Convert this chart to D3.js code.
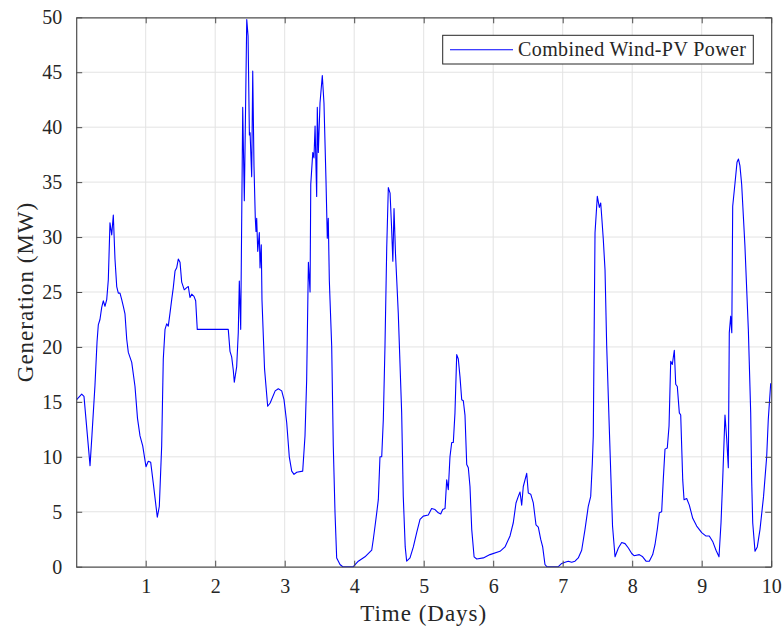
<!DOCTYPE html>
<html>
<head>
<meta charset="utf-8">
<script src="https://cdn.jsdelivr.net/npm/d3@7"></script>
<style>
  body { margin: 0; background: #fff; }
  text { font-family: "Liberation Serif", "Times New Roman", serif; fill: #262626; }
</style>
</head>
<body>
<svg id="chart" width="784" height="629"></svg>
<script>
// time in days, generation in MW
const days = [0.007,0.079,0.112,0.199,0.227,0.27,0.30,0.318,0.342,0.367,0.39,0.414,0.439,0.462,0.486,0.511,0.534,0.558,0.583,0.606,0.630,0.655,0.678,0.702,0.727,0.75,0.799,0.846,0.882,0.918,0.957,1.004,1.037,1.072,1.109,1.167,1.196,1.230,1.253,1.278,1.302,1.325,1.350,1.374,1.397,1.422,1.446,1.469,1.494,1.518,1.555,1.59,1.613,1.637,1.662,1.695,1.719,1.742,2.188,2.213,2.237,2.26,2.275,2.309,2.332,2.347,2.367,2.396,2.419,2.454,2.473,2.492,2.502,2.525,2.54,2.558,2.577,2.587,2.597,2.612,2.635,2.645,2.663,2.673,2.71,2.755,2.791,2.863,2.908,2.957,2.99,3.029,3.066,3.101,3.134,3.173,3.259,3.292,3.316,3.341,3.365,3.375,3.404,3.421,3.437,3.46,3.469,3.484,3.508,3.541,3.565,3.594,3.613,3.627,3.642,3.652,3.676,3.699,3.724,3.748,3.796,3.835,3.987,4.059,4.155,4.252,4.275,4.30,4.324,4.347,4.371,4.396,4.419,4.443,4.468,4.491,4.516,4.537,4.556,4.573,4.594,4.612,4.634,4.683,4.706,4.734,4.755,4.803,4.851,4.899,4.947,4.994,5.066,5.114,5.163,5.21,5.245,5.273,5.307,5.331,5.354,5.378,5.403,5.426,5.45,5.475,5.498,5.522,5.547,5.57,5.594,5.619,5.642,5.666,5.691,5.725,5.763,5.858,5.954,6.098,6.17,6.242,6.289,6.328,6.361,6.386,6.41,6.433,6.482,6.505,6.54,6.577,6.616,6.649,6.683,6.712,6.745,6.77,6.937,6.986,7.033,7.081,7.129,7.177,7.224,7.273,7.321,7.368,7.403,7.426,7.44,7.455,7.465,7.498,7.527,7.547,7.561,7.584,7.609,7.633,7.671,7.695,7.717,7.753,7.801,7.849,7.897,7.945,7.993,8.026,8.102,8.151,8.199,8.246,8.295,8.328,8.361,8.39,8.424,8.447,8.472,8.505,8.53,8.554,8.577,8.606,8.626,8.649,8.678,8.698,8.727,8.746,8.784,8.822,8.871,8.928,9.0,9.058,9.109,9.158,9.206,9.249,9.278,9.302,9.335,9.36,9.383,9.397,9.417,9.433,9.446,9.479,9.508,9.529,9.55,9.575,9.622,9.671,9.705,9.719,9.734,9.767,9.8,9.839,9.89,9.935,9.958,9.993]
const power = [15.2,15.7,15.5,9.2,12.0,16.5,20.5,22.0,22.5,23.6,24.2,23.7,24.3,26.1,31.3,30.2,32.0,28.0,25.5,24.9,24.9,24.3,23.7,23.0,20.7,19.5,18.6,16.4,13.5,11.9,11.0,9.1,9.6,9.5,7.6,4.5,5.5,11.0,18.9,21.6,22.1,21.9,23.1,24.3,25.4,26.9,27.2,28.0,27.7,25.9,25.2,25.4,25.5,24.5,24.8,24.6,24.2,21.6,21.6,19.6,19.1,17.9,16.8,18.2,21.3,26.0,21.6,41.8,33.3,49.8,48.3,39.3,39.5,35.5,45.1,36.5,31.7,30.5,31.7,28.7,30.4,27.2,29.3,24.3,18.0,14.6,14.9,16.0,16.2,16.0,15.2,13.1,10.0,8.7,8.4,8.6,8.7,11.9,17.0,27.7,25.0,34.8,37.7,37.2,40.1,33.7,41.8,37.7,42.2,44.7,42.2,35.2,29.9,31.7,26.1,24.3,20.1,11.0,4.9,0.8,0.2,0,0,0.5,0.9,1.5,2.5,3.7,4.9,6.1,10.0,10.0,13.4,20.1,29.0,34.5,34.0,31.0,27.8,32.6,28.5,26.1,23.1,14.0,6.4,1.8,0.5,0.8,1.8,3.1,4.3,4.6,4.7,5.3,5.2,4.9,4.8,5.2,5.3,7.9,7.0,10.0,11.3,11.3,14.0,19.3,18.9,17.3,15.2,15.1,13.8,9.3,9.0,7.3,3.4,0.9,0.7,0.8,1.1,1.4,1.8,2.8,4.0,5.8,6.4,6.8,5.6,7.3,8.5,6.7,6.6,5.8,3.8,3.6,2.5,1.8,0.2,0,0,0.3,0.4,0.5,0.4,0.5,0.8,1.5,3.4,5.5,6.4,9.4,11.9,23.1,30.4,33.7,32.7,33.1,31.9,29.8,27.0,20.1,12.5,7.9,3.7,0.9,1.7,2.2,2.1,1.7,1.2,1.0,1.1,0.9,0.5,0.5,1.1,2.0,3.4,4.9,5.0,7.9,10.7,10.8,12.8,18.7,18.4,19.7,16.6,16.4,14.0,13.8,7.9,6.1,6.2,5.6,4.4,3.7,3.1,2.8,2.8,2.3,1.5,0.9,4.0,7.9,13.8,11.6,9.0,21.3,22.8,21.3,32.8,34.9,36.8,37.1,36.5,34.8,29.2,21.6,14.0,7.9,4.0,1.4,1.8,3.4,6.4,10.0,13.4,16.7]
const xTicks = [1,2,3,4,5,6,7,8,9,10]
const yTicks = [0,5,10,15,20,25,30,35,40,45,50]
const seriesName = "Combined Wind-PV Power"

const svg = d3.select("#chart")
const plotLeft = 76.2, plotRight = 771.2, plotTop = 17.3, plotBottom = 566.7

const x = d3.scaleLinear().domain([0, 10]).range([plotLeft, plotRight])
const y = d3.scaleLinear().domain([0, 50]).range([plotBottom, plotTop])

// grid
svg.append("g").selectAll("line")
    .data(xTicks.filter(d => d < 10))
    .enter().append("line")
        .attr("x1", d => x(d)).attr("x2", d => x(d))
        .attr("y1", plotTop).attr("y2", plotBottom)
        .style("stroke", "#e3e3e3").style("stroke-width", 1)
svg.append("g").selectAll("line")
    .data(yTicks.filter(d => d > 0 && d < 50))
    .enter().append("line")
        .attr("x1", plotLeft).attr("x2", plotRight)
        .attr("y1", d => y(d)).attr("y2", d => y(d))
        .style("stroke", "#e3e3e3").style("stroke-width", 1)

// the series
const line = d3.line().x((d, i) => x(days[i])).y(d => y(d))
svg.append("path")
    .datum(power)
    .attr("d", line)
    .style("fill", "none")
    .style("stroke", "#0000ff")
    .style("stroke-width", 1.1)
    .style("stroke-linejoin", "round")

// axes, ticks pointing inward on all four sides
function styleAxis(g){
    g.selectAll(".domain").style("stroke", "#4d4d4d").style("stroke-width", 1.2)
    g.selectAll(".tick line").style("stroke", "#4d4d4d").style("stroke-width", 1)
    g.selectAll(".tick text").style("font-family", "Liberation Serif, serif")
        .style("font-size", "20px").style("fill", "#262626")
}

svg.append("g")
    .attr("transform", `translate(0, ${plotBottom})`)
    .call(d3.axisBottom(x).tickValues(xTicks).tickFormat(d3.format("d"))
        .tickSizeInner(-6).tickSizeOuter(0).tickPadding(12))
    .call(styleAxis)

svg.append("g")
    .attr("transform", `translate(0, ${plotTop})`)
    .call(d3.axisTop(x).tickValues(xTicks).tickFormat("")
        .tickSizeInner(-6).tickSizeOuter(0))
    .call(styleAxis)

svg.append("g")
    .attr("transform", `translate(${plotLeft}, 0)`)
    .call(d3.axisLeft(y).tickValues(yTicks).tickFormat(d3.format("d"))
        .tickSizeInner(-6).tickSizeOuter(0).tickPadding(14))
    .call(styleAxis)

svg.append("g")
    .attr("transform", `translate(${plotRight}, 0)`)
    .call(d3.axisRight(y).tickValues(yTicks).tickFormat("")
        .tickSizeInner(-6).tickSizeOuter(0))
    .call(styleAxis)

// axis titles
svg.append("text")
    .attr("x", (plotLeft + plotRight) / 2).attr("y", 621)
    .attr("text-anchor", "middle")
    .style("font-size", "23px")
    .style("letter-spacing", "1px")
    .text("Time (Days)")

svg.append("text")
    .attr("transform", `translate(33, ${(plotTop + plotBottom) / 2}) rotate(-90)`)
    .attr("text-anchor", "middle")
    .style("font-size", "23px")
    .style("letter-spacing", "1px")
    .text("Generation (MW)")

// legend
const legend = svg.append("g")
legend.append("rect")
    .attr("x", 442.7).attr("y", 35.3).attr("width", 310.6).attr("height", 28.7)
    .style("fill", "#fff").style("stroke", "#262626").style("stroke-width", 1)
legend.append("line")
    .attr("x1", 450).attr("x2", 513).attr("y1", 49.7).attr("y2", 49.7)
    .style("stroke", "#0000ff").style("stroke-width", 1.1)
legend.append("text")
    .attr("x", 518).attr("y", 56)
    .style("font-size", "20px")
    .style("letter-spacing", "0.4px")
    .text(seriesName)
</script>
</body>
</html>
